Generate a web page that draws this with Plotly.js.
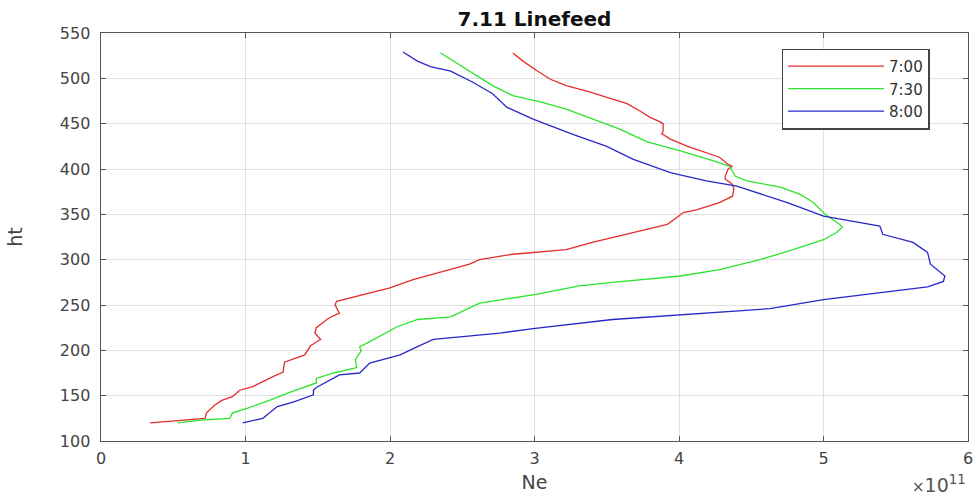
<!DOCTYPE html>
<html>
<head>
<meta charset="utf-8">
<script src="https://cdn.plot.ly/plotly-3.0.1.min.js"></script>
<style>html,body{margin:0;padding:0;background:#fff;}#chart{width:977px;height:496px;}</style>
</head>
<body>
<div id="chart"></div>
<script>
// Ne values in units of 1e11, heights (ht)
const ne700 = [0.34,0.55,0.72,0.73,0.79,0.84,0.91,0.96,1.05,1.19,1.26,1.27,1.36,1.41,1.45,1.52,1.48,1.49,1.58,1.65,1.62,1.63,2.00,2.16,2.55,2.62,2.85,3.22,3.40,3.59,3.78,3.92,3.99,4.03,4.12,4.28,4.37,4.38,4.37,4.32,4.32,4.34,4.37,4.34,4.28,4.19,4.06,3.94,3.88,3.89,3.89,3.87,3.80,3.73,3.64,3.54,3.38,3.22,3.11,3.02,2.92,2.85];
const ht700 = [120,123,125,131,140,145,149,156,160,171,176,187,192,195,205,212,219,225,236,241,250,254,269,278,295,300,306,311,319,326,333,339,347,352,355,363,370,378,383,389,392,400,403,405,413,418,425,433,439,441,450,452,457,464,472,477,485,492,499,508,519,528];

const ne730 = [0.53,0.69,0.89,0.91,1.01,1.17,1.31,1.49,1.49,1.61,1.77,1.76,1.80,1.79,1.84,2.05,2.19,2.42,2.62,3.02,3.31,3.54,4.01,4.28,4.56,4.79,5.00,5.09,5.13,5.11,5.01,4.93,4.84,4.70,4.47,4.39,4.35,4.24,4.01,3.78,3.59,3.40,3.22,3.04,2.85,2.71,2.53,2.35];
const ht730 = [120,123,125,131,136,145,154,164,169,175,181,190,199,204,208,226,234,237,252,262,271,275,282,289,300,311,322,330,336,339,350,363,372,380,387,392,403,409,420,430,444,455,466,474,481,492,510,528];

const ne800 = [0.98,1.12,1.15,1.22,1.33,1.47,1.47,1.49,1.65,1.79,1.86,2.07,2.19,2.30,2.76,2.99,3.54,4.01,4.63,5.00,5.72,5.83,5.84,5.74,5.72,5.62,5.41,5.39,5.00,4.75,4.51,4.40,4.19,3.94,3.68,3.50,3.27,2.99,2.81,2.71,2.57,2.42,2.28,2.19,2.09];
const ht800 = [120,125,129,138,143,151,156,159,173,175,186,195,204,212,219,224,234,239,246,256,270,276,282,295,308,319,328,337,348,363,375,381,387,396,411,425,438,455,468,483,496,508,513,519,529];

const seriesNames = ["7:00","7:30","8:00"];
const xTicks = [0,1,2,3,4,5,6];
const yTicks = [100,150,200,250,300,350,400,450,500,550];

const font = "DejaVu Sans, Liberation Sans, Arial, sans-serif";
const colors = ["rgb(228,45,45)","rgb(45,228,45)","rgb(40,40,200)"];
const xs = [ne700, ne730, ne800];
const ys = [ht700, ht730, ht800];

const traces = xs.map((x,i)=>({
  type:"scatter", mode:"lines", x:x, y:ys[i], name:seriesNames[i],
  line:{color:colors[i], width:1.3}
}));

const axisCommon = {
  showline:true, linecolor:"#555", linewidth:1.4, mirror:"ticks",
  ticks:"inside", ticklen:5, tickcolor:"#555",
  showgrid:true, gridcolor:"#e0e0e0", gridwidth:1, zeroline:false,
  tickfont:{family:font, size:16, color:"#444"}
};

const layout = {
  width:977, height:496,
  margin:{l:101, r:9, t:33, b:55},
  paper_bgcolor:"#fff", plot_bgcolor:"#fff",
  title:{text:"<b>7.11 Linefeed</b>", font:{family:font, size:20, color:"#111"}, xref:"paper", x:0.5, xanchor:"center", yref:"container", y:0.962, yanchor:"middle"},
  xaxis:Object.assign({}, axisCommon, {range:[0,6], tickvals:xTicks, ticktext:xTicks.map(String),
    ticklabelstandoff:2,
    title:{text:"Ne", font:{family:font, size:19, color:"#444"}, standoff:9}}),
  yaxis:Object.assign({}, axisCommon, {range:[100,550], tickvals:yTicks, ticktext:yTicks.map(String),
    ticklabelstandoff:6,
    title:{text:"ht", font:{family:font, size:19, color:"#444"}, standoff:32}}),
  legend:{x:0.785, y:0.962, xanchor:"left", yanchor:"top", bgcolor:"#fff",
    bordercolor:"#444", borderwidth:1.4, itemwidth:96,
    font:{family:font, size:15, color:"#333"}, tracegroupgap:0},
  annotations:[{xref:"paper", yref:"paper", x:1.0, y:-0.105, xanchor:"right", yanchor:"middle",
    text:"<span style='font-size:15px'>×</span>10<sup>11</sup>", showarrow:false, font:{family:font, size:19, color:"#555"}}],
  showlegend:true
};

Plotly.newPlot("chart", traces, layout, {displayModeBar:false, staticPlot:true});
</script>
</body>
</html>
